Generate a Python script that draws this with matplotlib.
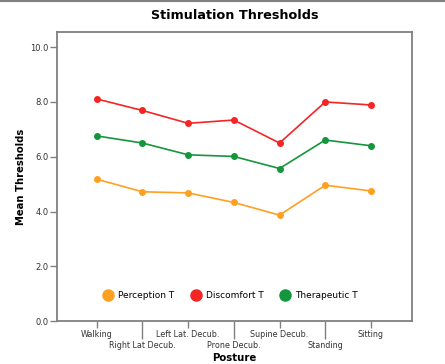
import matplotlib
matplotlib.use('Agg')
import matplotlib.pyplot as plt
from matplotlib.lines import Line2D

postures = ['Walking', 'Right Lat Decub.', 'Left Lat. Decub.', 'Prone Decub.',
            'Supine Decub.', 'Standing', 'Sitting']
perception = [5.18, 4.72, 4.68, 4.33, 3.87, 4.96, 4.75]
discomfort = [8.11, 7.69, 7.22, 7.34, 6.50, 8.00, 7.89]
therapeutic = [6.76, 6.50, 6.07, 6.01, 5.57, 6.61, 6.40]

c_perc = '#ffa023'
c_disc = '#f52525'
c_ther = '#14963c'
grey = '#808080'

fig = plt.figure(figsize=(4.45, 3.64), dpi=100)
ax = fig.add_axes([0.128, 0.118, 0.797, 0.793])

x = list(range(len(postures)))
for vals, col in [(perception, c_perc), (discomfort, c_disc), (therapeutic, c_ther)]:
    ax.plot(x, vals, color=col, lw=1.2, marker='o', ms=4, mec=col, mfc=col)

ax.set_xlim(-0.87, 6.89)
ax.set_ylim(0, 10.54)
ax.set_yticks([0, 2, 4, 6, 8, 10])
ax.set_yticklabels(['%.1f' % v for v in [0, 2, 4, 6, 8, 10]], fontsize=6, color='#333333')

# staggered x labels: even positions on major ticks, odd ones on long minor ticks
ax.set_xticks([0, 2, 4, 6])
ax.set_xticklabels([postures[i] for i in [0, 2, 4, 6]], fontsize=5.8, color='#333333')
ax.set_xticks([1, 3, 5], minor=True)
ax.set_xticklabels([postures[i] for i in [1, 3, 5]], minor=True, fontsize=5.8, color='#333333')
ax.tick_params(axis='x', which='major', length=5, width=1, color=grey, pad=1.5)
ax.tick_params(axis='x', which='minor', length=13, width=1, color=grey, pad=1.5)
ax.tick_params(axis='y', length=5, width=1, color=grey, pad=1)

for s in ax.spines.values():
    s.set_color(grey)
    s.set_linewidth(1.3)

ax.set_title('Stimulation Thresholds', fontsize=9.2, fontweight='bold', pad=10)
ax.set_xlabel('Posture', fontsize=7.3, fontweight='bold', labelpad=2)
ax.set_ylabel('Mean Thresholds', fontsize=7.2, fontweight='bold', labelpad=3)

handles = [Line2D([], [], ls='none', marker='o', ms=8, color=c) for c in (c_perc, c_disc, c_ther)]
ax.legend(handles, ['Perception T', 'Discomfort T', 'Therapeutic T'], loc='lower center',
          bbox_to_anchor=(0.483, 0.045), ncol=3, frameon=False, fontsize=6.5,
          handletextpad=0.1, columnspacing=1.4)

fig.add_artist(Line2D([0, 1], [0.998, 0.998], color=grey, lw=1.5))

plt.savefig('out.png', dpi=100)
